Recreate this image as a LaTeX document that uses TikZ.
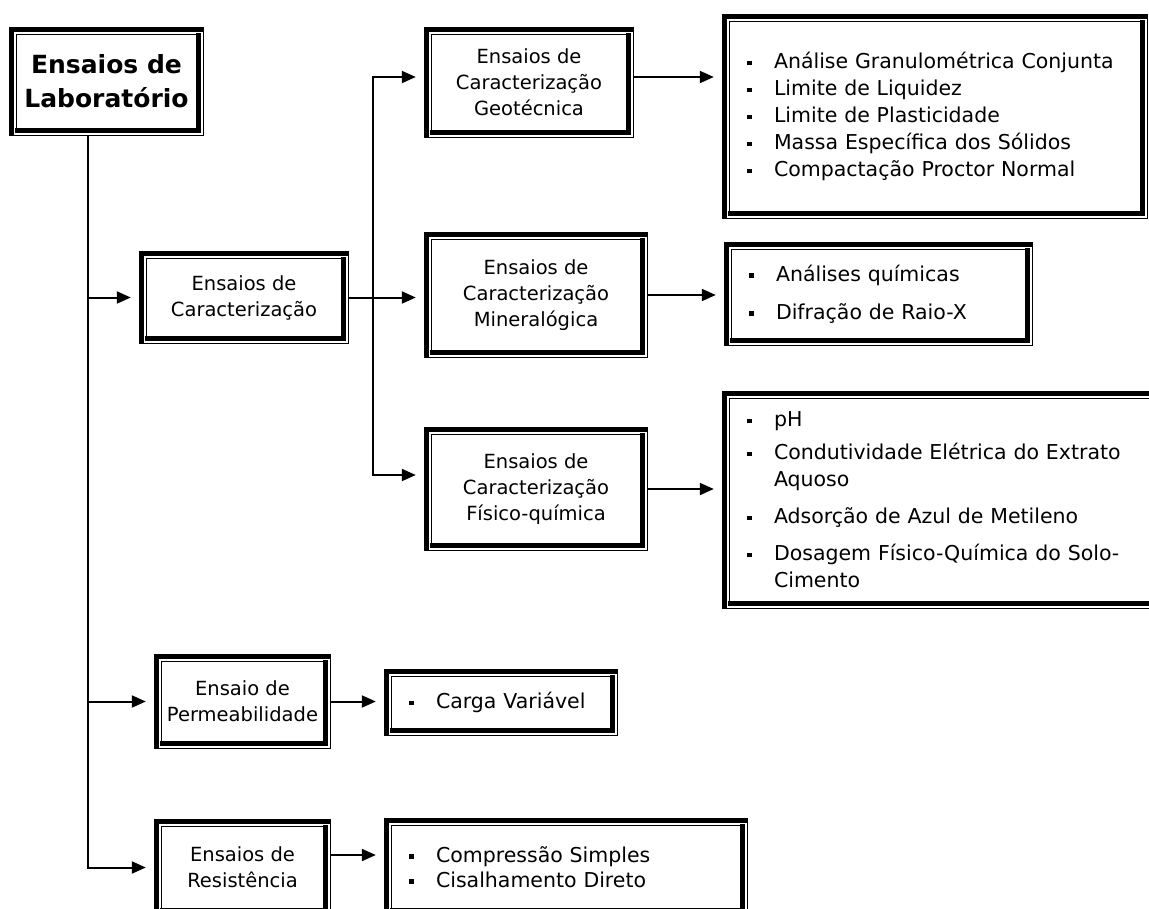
\documentclass[tikz,border=0pt]{standalone}
\usepackage{fontspec}
\setmainfont{DejaVu Sans}
\usetikzlibrary{arrows.meta}

\tikzstyle{caixa}=[rectangle,fill=white,inner sep=0pt,align=center,font=\fontsize{19.5}{26}\selectfont]
\tikzstyle{lista}=[rectangle,fill=white,inner xsep=24pt,inner ysep=0pt,align=left,font=\fontsize{20.5}{27}\selectfont]
\tikzstyle{seta}=[draw,line width=2pt,-{Triangle[length=14pt,width=12pt]},shorten >=9pt]
\tikzstyle{fino}=[draw,line width=0.9pt]
\tikzstyle{grosso}=[draw,line width=4.6pt]

\newcommand{\bul}{\makebox[27pt][l]{\rule[3.5pt]{4.5pt}{4.5pt}}}
\newcommand{\recuo}{\hspace*{27pt}}

\begin{document}
\begin{tikzpicture}[x=1pt,y=-1pt]
		\useasboundingbox (0,0) rectangle (1149,908);
		\fill[white] (0,0) rectangle (1149,908);
		\clip (0,0) rectangle (1149,908);
		% boxes
		\node[caixa,minimum width=193pt,minimum height=107pt,font=\fontsize{25}{34}\selectfont\bfseries] (lab) at (106.5,81.5) {Ensaios de\\Laboratório};
		\node[caixa,minimum width=208pt,minimum height=91pt] (carac) at (244,297.5) {Ensaios de\\Caracterização};
		\node[caixa,minimum width=208pt,minimum height=109pt] (geot) at (529,82.5) {Ensaios de\\Caracterização\\Geotécnica};
		\node[caixa,minimum width=222pt,minimum height=124pt] (miner) at (536,295) {Ensaios de\\Caracterização\\Mineralógica};
		\node[caixa,minimum width=222pt,minimum height=122pt] (fisq) at (536,489) {Ensaios de\\Caracterização\\Físico-química};
		\node[caixa,minimum width=175pt,minimum height=93pt] (perm) at (242.5,701.5) {Ensaio de\\Permeabilidade};
		\node[caixa,minimum width=175pt,minimum height=95pt] (resist) at (242.5,867.5) {Ensaios de\\Resistência};
		% lists
		\node[lista,text width=376pt,minimum height=203pt] (geolist) at (935,116.5) {\bul Análise Granulométrica Conjunta\\\bul Limite de Liquidez\\\bul Limite de Plasticidade\\\bul Massa Específica dos Sólidos\\\bul Compactação Proctor Normal};
		\node[lista,text width=259pt,minimum height=102pt] (minlist) at (878.5,294) {\bul Análises químicas\\[11pt]\bul Difração de Raio-X};
		\node[lista,text width=389pt,minimum height=216pt] (fqlist) at (941.5,500) {\bul pH\\[6pt]\bul Condutividade Elétrica do Extrato\\\recuo Aquoso\\[10pt]\bul Adsorção de Azul de Metileno\\[10pt]\bul Dosagem Físico-Química do Solo-\\\recuo Cimento};
		\node[lista,text width=184pt,minimum height=65pt] (carga) at (501,702.5) {\bul Carga Variável};
		\node[lista,text width=314pt,minimum height=96pt] (compr) at (566,867) {\bul Compressão Simples\\[-2pt]\bul Cisalhamento Direto};
		% double frames, thick outside on top/left, thick inside on bottom/right
		\foreach \n in {lab,carac,geot,miner,fisq,perm,resist,geolist,minlist,fqlist,carga,compr}{
			\path[fino] (\n.south west) rectangle (\n.north east);
			\path[fino] ([shift={(7pt,7pt)}]\n.south west) rectangle ([shift={(-7pt,-7pt)}]\n.north east);
			\path[grosso] ([xshift=2.3pt]\n.south west) |- ([yshift=-2.3pt]\n.north east);
			\path[grosso] ([shift={(4.7pt,4.7pt)}]\n.south west) -| ([shift={(-4.7pt,-4.7pt)}]\n.north east);
		}
		% connectors
		\foreach \dest in {carac,perm,resist}
		\path[seta] ([xshift=-18.5pt]lab.south) |- (\dest.west);
		\coordinate (ramo) at (373,297.5);
		\path[seta] (ramo) |- ([yshift=5.5pt]geot.west);
		\path[seta] (ramo) |- ([yshift=14pt]fisq.west);
		\path[seta] (carac.east) -- (carac.east -| miner.west);
		\path[seta] ([yshift=5.5pt]geot.east) -- ([yshift=5.5pt]geot.east -| geolist.west);
		\foreach \source/\dest in {miner/minlist,fisq/fqlist,perm/carga}
		\path[seta] (\source.east) -- (\source.east -| \dest.west);
		\path[seta] ([yshift=12.5pt]resist.east) -- ([yshift=12.5pt]resist.east -| compr.west);
\end{tikzpicture}
\end{document}
